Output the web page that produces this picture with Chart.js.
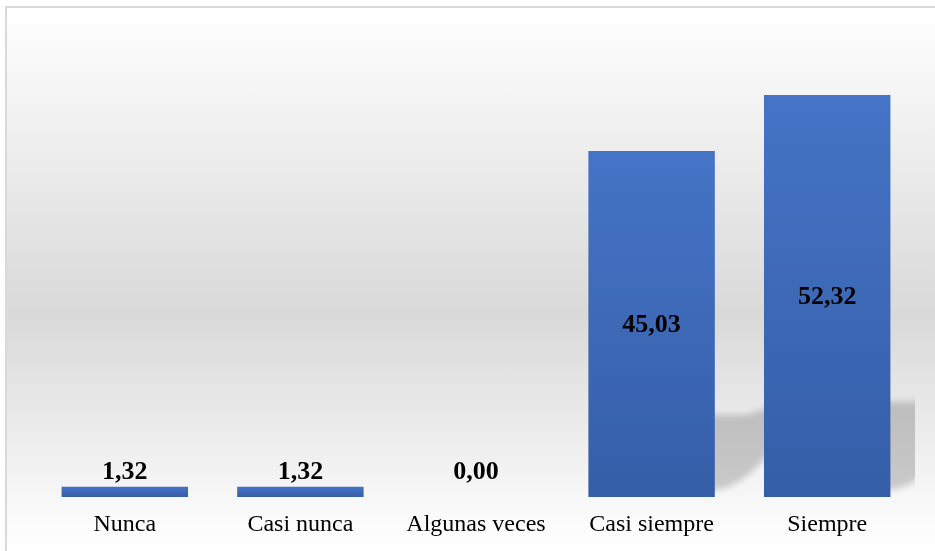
<!DOCTYPE html>
<html lang="es">
<head>
<meta charset="utf-8">
<script src="https://cdn.jsdelivr.net/npm/chart.js@4.4.1/dist/chart.umd.min.js"></script>
<style>
  html, body { margin: 0; padding: 0; overflow: hidden; background: #ffffff; }
  #stage { position: relative; width: 935px; height: 551px; overflow: hidden; }
  #frame {
    position: absolute; left: 5px; top: 6px; width: 980px; height: 600px;
    border-left: 2px solid #d9d9d9; border-top: 2px solid #d9d9d9;
    background: linear-gradient(to bottom, #ffffff 0%, #d9d9d9 51%, #ffffff 90%, #ffffff 100%);
  }
  #chart { position: absolute; left: 0; top: 0; }
</style>
</head>
<body>
<div id="stage">
  <div id="frame"></div>
  <canvas id="chart" width="935" height="551"></canvas>
</div>
<script>
// Respuestas por categoría (porcentaje)
const categories = ['Nunca', 'Casi nunca', 'Algunas veces', 'Casi siempre', 'Siempre'];
const percentages = [1.32, 1.32, 0.00, 45.03, 52.32];
const axisMin = 0;
const axisMax = 60;

const SERIF = '"Liberation Serif", "Times New Roman", Times, serif';

function formatValue(v) {
  return v.toFixed(2).replace('.', ',');
}

// Vertical gradient per bar, from its top down to the baseline
function barFill(ctx) {
  const chart = ctx.chart;
  const yScale = chart.scales.y;
  if (!chart.chartArea || !yScale) return '#4472c4';
  const v = ctx.parsed ? ctx.parsed.y : percentages[ctx.dataIndex];
  const top = yScale.getPixelForValue(v);
  const base = yScale.getPixelForValue(0);
  if (!isFinite(top) || base - top < 1) return '#4472c4';
  const g = chart.ctx.createLinearGradient(0, top, 0, base);
  g.addColorStop(0, '#4574c6');
  g.addColorStop(1, '#355ea8');
  return g;
}

// Soft perspective shadow cast to the right of the tall bars
const barShadow = {
  id: 'barShadow',
  beforeDatasetsDraw(chart) {
    const { ctx, chartArea } = chart;
    const meta = chart.getDatasetMeta(0);
    ctx.save();
    ctx.beginPath();
    ctx.rect(chartArea.left, chartArea.top, chartArea.right - chartArea.left, chartArea.bottom - chartArea.top);
    ctx.clip();
    ctx.filter = 'blur(3px)';
    ctx.fillStyle = 'rgba(0,0,0,0.18)';
    meta.data.forEach(bar => {
      const h = bar.base - bar.y;
      if (h < 60) return;
      const xL = bar.x - bar.width / 2 + 12;
      const xR = bar.x + bar.width / 2;
      const base = bar.base;
      ctx.beginPath();
      ctx.moveTo(xL, base - 6);
      ctx.lineTo(xR, base - 7);
      ctx.quadraticCurveTo(xR + 28, base - 10, xR + 55, base - 45);
      ctx.lineTo(xR + 60, base - h * 0.25 - 4);
      ctx.lineTo(xR + 30, base - h * 0.237);
      ctx.lineTo(xL, base - h * 0.237);
      ctx.closePath();
      ctx.fill();
    });
    ctx.restore();
  }
};

// Value labels: centred inside tall bars, above short ones
const valueLabels = {
  id: 'valueLabels',
  afterDatasetsDraw(chart) {
    const { ctx } = chart;
    const meta = chart.getDatasetMeta(0);
    const minLift = 11;
    ctx.save();
    ctx.font = 'bold 26px ' + SERIF;
    ctx.fillStyle = '#000000';
    ctx.textAlign = 'center';
    meta.data.forEach((bar, i) => {
      const text = formatValue(percentages[i]);
      const h = bar.base - bar.y;
      if (h > 40) {
        ctx.textBaseline = 'middle';
        ctx.fillText(text, bar.x, (bar.y + bar.base) / 2 + 1);
      } else {
        ctx.textBaseline = 'alphabetic';
        ctx.fillText(text, bar.x, Math.min(bar.y, bar.base - minLift) - 7);
      }
    });
    ctx.restore();
  }
};

new Chart(document.getElementById('chart'), {
  type: 'bar',
  data: {
    labels: categories,
    datasets: [{
      data: percentages,
      backgroundColor: barFill,
      borderWidth: 0,
      categoryPercentage: 1.0,
      barPercentage: 0.72
    }]
  },
  options: {
    responsive: false,
    devicePixelRatio: 1,
    animation: false,
    layout: { padding: { left: 37, right: 20, top: 36, bottom: 0 } },
    plugins: {
      legend: { display: false },
      tooltip: { enabled: false }
    },
    scales: {
      x: {
        grid: { display: false, drawTicks: false },
        border: { display: false },
        ticks: {
          color: '#000000',
          padding: 13,
          font: { family: SERIF, size: 24 }
        },
        afterFit(scale) { scale.height = 54; }
      },
      y: {
        display: false,
        min: axisMin,
        max: axisMax
      }
    }
  },
  plugins: [barShadow, valueLabels]
});
</script>
</body>
</html>
